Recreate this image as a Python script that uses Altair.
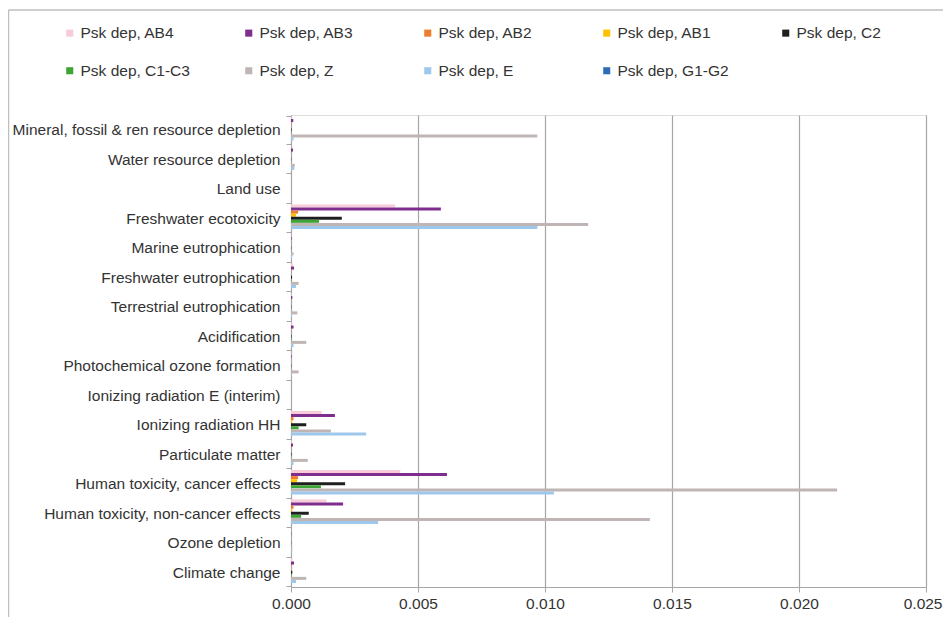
import altair as alt
import pandas as pd

categories = [
    "Mineral, fossil & ren resource depletion",
    "Water resource depletion",
    "Land use",
    "Freshwater ecotoxicity",
    "Marine eutrophication",
    "Freshwater eutrophication",
    "Terrestrial eutrophication",
    "Acidification",
    "Photochemical ozone formation",
    "Ionizing radiation E (interim)",
    "Ionizing radiation HH",
    "Particulate matter",
    "Human toxicity, cancer effects",
    "Human toxicity, non-cancer effects",
    "Ozone depletion",
    "Climate change",
]

series = ["Psk dep, AB4", "Psk dep, AB3", "Psk dep, AB2", "Psk dep, AB1", "Psk dep, C2",
          "Psk dep, C1-C3", "Psk dep, Z", "Psk dep, E", "Psk dep, G1-G2"]

colors = ["#F8CBD8", "#7E2F8E", "#ED7D31", "#FFC000", "#1E1E1E",
          "#3DA535", "#BFB5B5", "#9DC8EB", "#2E6DB4"]

ab4 = [0.00002, 0.00001, 0, 0.0041, 0.00001, 0.00008, 0.00002, 0.00003, 0.00001, 0, 0.0012, 0.00003, 0.0043, 0.0014, 0.000005, 0.00005]
ab3 = [0.00009, 0.00008, 0, 0.0059, 0.00002, 0.00012, 0.00005, 0.0001, 0.00002, 0, 0.00173, 0.00008, 0.00614, 0.00205, 0.00001, 0.00012]
ab2 = [0.00001, 0.00001, 0, 0.00028, 0, 0.00001, 0.00001, 0.00001, 0, 0, 0.0001, 0.00001, 0.00028, 0.0001, 0, 0.00001]
ab1 = [0, 0, 0, 0.0002, 0, 0, 0, 0, 0, 0, 0.00005, 0, 0.00024, 0.00005, 0, 0.00001]
c2 = [0.00002, 0.00001, 0, 0.0020, 0.00001, 0.00004, 0.00001, 0.00002, 0.00001, 0, 0.0006, 0.00002, 0.00213, 0.0007, 0.000005, 0.00005]
c1c3 = [0.00001, 0, 0, 0.0011, 0, 0.00002, 0, 0.00001, 0, 0, 0.0003, 0.00001, 0.00118, 0.0004, 0, 0.00002]
z = [0.0097, 0.00015, 0.00001, 0.0117, 0.0001, 0.0003, 0.00025, 0.0006, 0.0003, 0.00001, 0.00157, 0.00066, 0.0215, 0.01413, 0.00005, 0.0006]
e = [0.0001, 0.00013, 0, 0.0097, 0.00004, 0.0002, 0.00004, 0.0001, 0.00003, 0, 0.00296, 0.0001, 0.01035, 0.00343, 0.00002, 0.0002]
g1g2 = [0] * 16

values = [ab4, ab3, ab2, ab1, c2, c1c3, z, e, g1g2]

x_ticks = [0, 0.005, 0.01, 0.015, 0.02, 0.025]

rows = []
for s, vals in zip(series, values):
    for c, v in zip(categories, vals):
        rows.append({"category": c, "series": s, "value": v})
df = pd.DataFrame(rows)

FONT = "Liberation Sans"
FS = 15.5
TXT = "#333333"

bars = alt.Chart(df).mark_bar(size=3).encode(
    y=alt.Y("category:N", sort=categories, title=None,
            scale=alt.Scale(paddingInner=0.06, paddingOuter=0.03),
            axis=alt.Axis(labelFontSize=FS, labelColor=TXT, labelFont=FONT,
                          domainColor="#A6A6A6", tickColor="#A6A6A6", tickSize=5,
                          tickBand="extent", labelPadding=6, labelLimit=320, grid=False)),
    yOffset=alt.YOffset("series:N", sort=series, scale=alt.Scale(paddingInner=0, paddingOuter=0.02)),
    x=alt.X("value:Q", title=None,
            scale=alt.Scale(domain=[0, 0.025], nice=False),
            axis=alt.Axis(values=x_ticks, format=".3f",
                          labelFontSize=FS, labelColor=TXT, labelFont=FONT, labelFlush=False,
                          labelAlign=alt.expr("datum.value >= 0.0249 ? 'right' : 'center'"),
                          labelOffset=alt.expr("datum.value >= 0.0249 ? 16 : 0"),
                          grid=True, gridColor="#A6A6A6", gridWidth=1.2,
                          domain=True, domainColor="#A6A6A6", ticks=True, tickSize=5,
                          tickColor="#A6A6A6", labelPadding=4)),
    color=alt.Color("series:N", sort=series,
                    scale=alt.Scale(domain=series, range=colors),
                    legend=alt.Legend(title=None, orient="none", legendX=-229, legendY=-90,
                                      direction="horizontal", columns=5, gridAlign="all",
                                      symbolType="square", symbolSize=50, symbolStrokeWidth=0,
                                      labelFontSize=FS, labelFont=FONT, labelColor=TXT,
                                      columnPadding=49, rowPadding=21, labelOffset=3,
                                      labelLimit=200)),
)

border_df = pd.DataFrame({"k": [0]})
top_line = alt.Chart(border_df).mark_rule(stroke="#BFBFBF", strokeWidth=1.5).encode(
    x=alt.value(-282.5), x2=alt.value(652), y=alt.value(-105)
)
left_line = alt.Chart(border_df).mark_rule(stroke="#BFBFBF", strokeWidth=1.5).encode(
    x=alt.value(-282.5), y=alt.value(-105), y2=alt.value(520)
)

chart = alt.layer(top_line, left_line, bars).properties(
    width=635, height=472,
    padding={"left": 283, "top": 107, "right": 17, "bottom": 30},
    autosize=alt.AutoSizeParams(type="none"),
).configure_view(stroke=None).configure(background="white")

chart.save("out.html", embed_options={"renderer": "svg", "actions": False})
